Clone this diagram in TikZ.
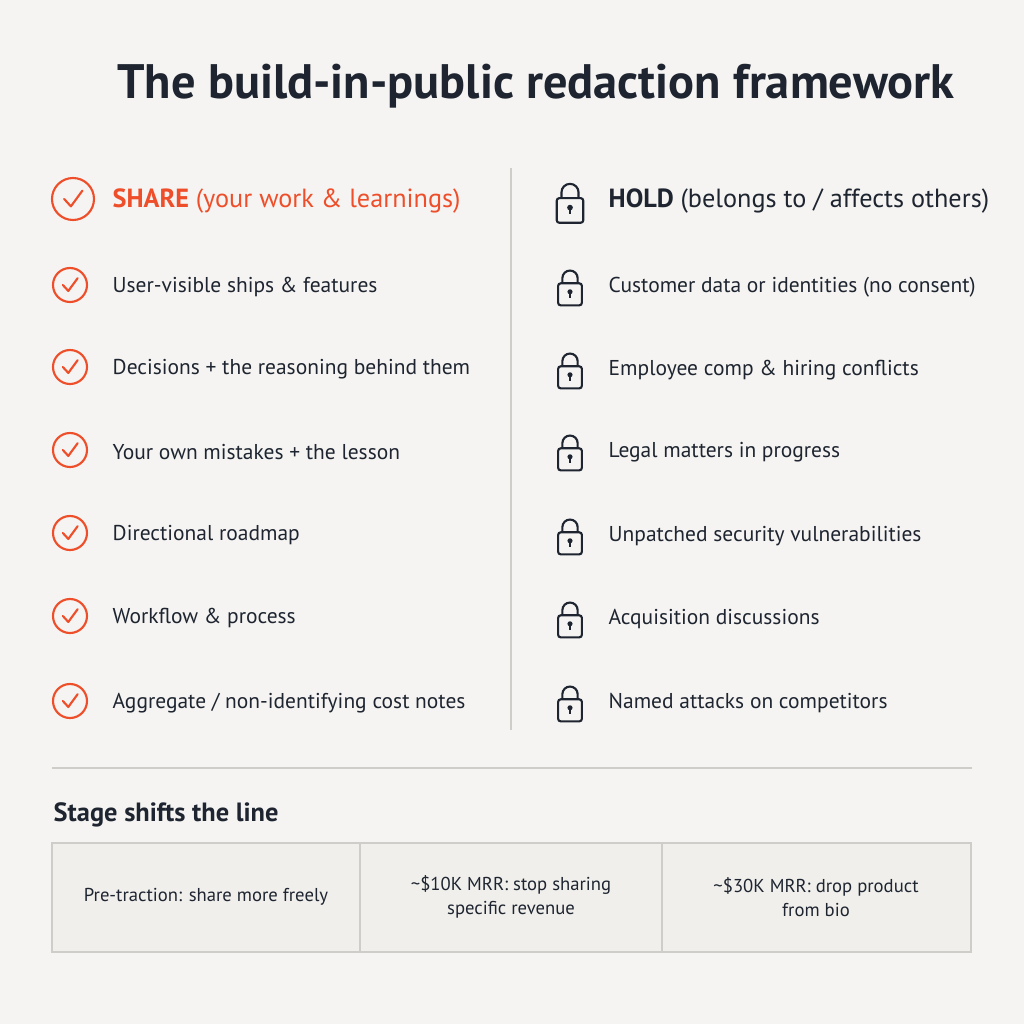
\documentclass[tikz,border=0pt]{standalone}
\usepackage{fontspec}
\setmainfont{PT Sans}
\definecolor{bgc}{HTML}{F5F4F2}
\definecolor{shareorange}{HTML}{EE4F2A}
\definecolor{inkc}{HTML}{1E2530}
\definecolor{rulec}{HTML}{CFCDCA}
\definecolor{cellc}{HTML}{F0EFEC}
\tikzset{
  item/.style={anchor=west,text=inkc,font=\fontsize{16.1}{19}\selectfont},
  headitem/.style={anchor=west,font=\fontsize{19.7}{24}\selectfont\bfseries},
  cellnote/.style={text=inkc,font=\fontsize{14}{18}\selectfont,align=center},
}
\newcommand{\checkicon}[2]{% centre, radius
  \draw[shareorange,line width=1.6pt] (#1) circle (#2);
  \draw[shareorange,line width=1.6pt,line cap=round,line join=round]
    ($(#1)+(-0.42*#2,0)$) -- ($(#1)+(-0.1*#2,0.35*#2)$) -- ($(#1)+(0.45*#2,-0.4*#2)$);}
\newcommand{\lockicon}[2]{% centre, scale
  \begin{scope}[shift={(#1)},scale=#2,line width=1.6pt,inkc]
    \draw[rounded corners=2] (-14,-2) rectangle (14,24);
    \draw (-9,-2) -- (-9,-8) arc[start angle=180,end angle=360,radius=9] -- (9,-2);
    \fill (0,8) circle (3);
    \draw (0,8) -- (0,15);
  \end{scope}}
\usetikzlibrary{calc}
\begin{document}
\begin{tikzpicture}[x=0.75pt,y=-0.75pt]
\fill[bgc] (0,0) rectangle (1024,1024);
\useasboundingbox (0,0) rectangle (1024,1024);

%Title
\node[text=inkc,font=\fontsize{36.3}{42}\selectfont\bfseries] (title) at (536,86) {The build-in-public redaction framework};

%Dividers
\draw[rulec,line width=0.8pt] (511,168) -- (511,730);
\draw[rulec,line width=0.8pt] (52,768) -- (972,768);

%Share column
\checkicon{73,199}{21}
\node[headitem,text=shareorange] (share) at (108,201) {SHARE {\mdseries(your work \& learnings)}};
\foreach \y/\t in {285/{User-visible ships \& features},
                   367/{Decisions + the reasoning behind them},
                   450/{Your own mistakes + the lesson},
                   533/{Directional roadmap},
                   616/{Workflow \& process},
                   701/{Aggregate / non-identifying cost notes}}{
  \checkicon{70,\y}{17}
  \node[item] at (108,\y+2) {\t};
}

%Hold column
\lockicon{570,200}{0.95}
\node[headitem,text=inkc] (hold) at (604,201) {HOLD {\mdseries(belongs to / affects others)}};
\foreach \y/\t in {285/{Customer data or identities (no consent)},
                   368/{Employee comp \& hiring conflicts},
                   450/{Legal matters in progress},
                   534/{Unpatched security vulnerabilities},
                   617/{Acquisition discussions},
                   701/{Named attacks on competitors}}{
  \lockicon{570,\y}{0.85}
  \node[item] at (604,\y+2) {\t};
}

%Stage table
\node[anchor=west,text=inkc,font=\fontsize{19.8}{23}\selectfont\bfseries] (stage) at (49,815) {Stage shifts the line};
\draw[rulec,fill=cellc,line width=0.8pt] (52,843) rectangle (971,952);
\draw[rulec,line width=0.8pt] (360,843) -- (360,952) (662,843) -- (662,952);
\node[cellnote] (pre) at (206,897) {Pre-traction: share more freely};
\node[cellnote] (ten) at (511,897) {\textasciitilde\$10K MRR: stop sharing\\specific revenue};
\node[cellnote] (thirty) at (816,897) {\textasciitilde\$30K MRR: drop product\\from bio};
\end{tikzpicture}
\end{document}
